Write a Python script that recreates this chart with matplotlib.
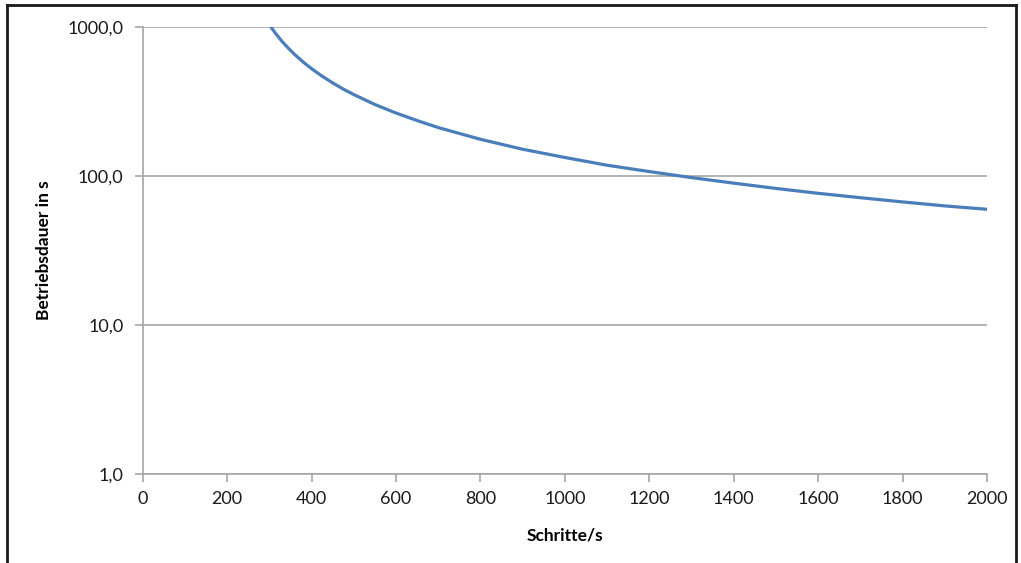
import matplotlib
matplotlib.use("Agg")
import matplotlib.pyplot as plt
from matplotlib.lines import Line2D
from matplotlib.ticker import FixedLocator, FixedFormatter, NullLocator

# Data
schritte = [303, 315, 330, 345, 360, 380, 400, 425, 450, 475, 500, 550, 600, 650, 700,
            800, 900, 1000, 1100, 1200, 1300, 1400, 1500, 1600, 1700, 1800, 1900, 2000]
betriebsdauer = [1000, 899, 797, 717, 651, 580, 523, 466, 420, 382, 351, 301, 264, 235, 211,
                 176, 151, 133, 118, 107, 97.5, 89.5, 82.5, 76.5, 71.5, 67.0, 63.0, 59.8]

x_ticks = [0, 200, 400, 600, 800, 1000, 1200, 1400, 1600, 1800, 2000]
y_ticks = [1, 10, 100, 1000]
y_tick_labels = ["1,0", "10,0", "100,0", "1000,0"]

plt.rcParams['font.family'] = ['Lato', 'DejaVu Sans']

fig = plt.figure(figsize=(10.21, 5.63), dpi=100)
ax = fig.add_axes([0.1398, 0.1572, 0.9667 - 0.1398, 0.9526 - 0.1572])

ax.plot(schritte, betriebsdauer, color='#4a7ebb', lw=2.3, solid_capstyle='butt',
        solid_joinstyle='round')

ax.set_yscale('log')
ax.set_xlim(0, 2000)
ax.set_ylim(1, 1000)

ax.yaxis.set_major_locator(FixedLocator(y_ticks))
ax.yaxis.set_major_formatter(FixedFormatter(y_tick_labels))
ax.yaxis.set_minor_locator(NullLocator())
ax.set_xticks(x_ticks)
ax.set_xticklabels([str(t) for t in x_ticks])

grey = '#a6a6a6'
ax.grid(axis='y', color=grey, lw=1.2)
ax.set_axisbelow(True)
for s in ['top', 'right']:
    ax.spines[s].set_visible(False)
for s in ['left', 'bottom']:
    ax.spines[s].set_color(grey)
    ax.spines[s].set_linewidth(1.2)

ax.tick_params(axis='both', direction='out', length=6, width=1.2, color=grey,
               labelsize=13, labelcolor='#1a1a1a')
ax.tick_params(axis='y', pad=8)
ax.tick_params(axis='x', pad=6)

ax.set_xlabel('Schritte/s', fontsize=12.5, fontweight='bold', labelpad=15)
ax.set_ylabel('Betriebsdauer in s', fontsize=12.5, fontweight='bold', labelpad=11)

# outer black frame
fig.add_artist(Line2D([7/1021, 1016/1021], [1-4.5/563, 1-4.5/563], color='#1a1a1a', lw=2, transform=fig.transFigure))
fig.add_artist(Line2D([7/1021, 7/1021], [0, 1-4.5/563], color='#1a1a1a', lw=2, transform=fig.transFigure))
fig.add_artist(Line2D([1016/1021, 1016/1021], [0, 1-4.5/563], color='#1a1a1a', lw=2, transform=fig.transFigure))

fig.savefig('out.png', dpi=100)
